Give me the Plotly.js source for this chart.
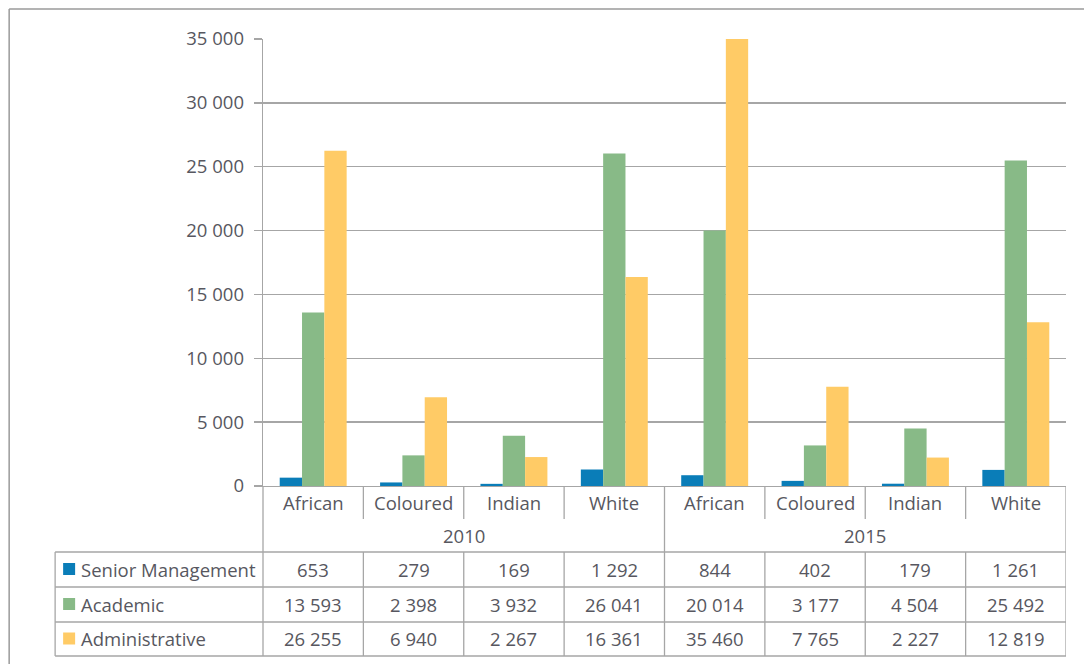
<!DOCTYPE html>
<html>
<head>
<meta charset="utf-8">
<script src="https://cdn.plot.ly/plotly-3.0.1.min.js"></script>
<style>html,body{margin:0;padding:0;background:#fff;}#chart{width:1084px;height:664px;}</style>
</head>
<body>
<div id="chart"></div>
<script>
// ---- data ----
const years = ['2010', '2015'];
const categories = ['African', 'Coloured', 'Indian', 'White'];
const seriesNames = ['Senior Management', 'Academic', 'Administrative'];
const seniorManagement = [653, 279, 169, 1292, 844, 402, 179, 1261];
const academic = [13593, 2398, 3932, 26041, 20014, 3177, 4504, 25492];
const administrative = [26255, 6940, 2267, 16361, 35460, 7765, 2227, 12819];
const yTicks = [0, 5000, 10000, 15000, 20000, 25000, 30000, 35000];

// ---- style ----
const colors = ['#0A7DB8', '#88BA87', '#FFCB66'];
const textColor = '#575760';
const lineColor = '#A6A6A6';
const FONT = 'Open Sans, sans-serif';
const FS = 18.5;

const W = 1084, H = 664;
const L = 263, R = 1066.5, T = 39, B = 486;
const px = X => (X - L) / (R - L);
const py = Y => (B - Y) / (B - T);

const n = years.length * categories.length;
const xIdx = Array.from({length: n}, (_, i) => i);
const allSeries = [seniorManagement, academic, administrative];

const traces = allSeries.map((vals, s) => ({
  type: 'bar', x: xIdx, y: vals, name: seriesNames[s],
  marker: {color: colors[s], line: {width: 0}},
  hoverinfo: 'y+name'
}));

function fmt(v) {
  return String(v).replace(/\B(?=(\d{3})+(?!\d))/g, ' ');
}

const shapes = [];
const annotations = [];
function line(x0, y0, x1, y1, xref, color, width) {
  shapes.push({type: 'line', xref: xref || 'paper', yref: 'paper', x0, y0, x1, y1,
    line: {color: color || lineColor, width: width || 1.3}, layer: 'above'});
}
function text(x, y, t, xref, xanchor) {
  annotations.push({x, y, xref: xref || 'x', yref: 'paper', text: t, showarrow: false,
    xanchor: xanchor || 'center', yanchor: 'middle', font: {family: FONT, size: FS, color: textColor}});
}

// outer frame (left + top)
line(px(9), py(9), px(9), py(668), 'paper', '#9A9A9A', 1.5);
line(px(9), py(9), px(1090), py(9), 'paper', '#9A9A9A', 1.5);

// y axis extension downwards
line(px(L), py(B), px(L), py(656));
// right edge of table
line(n - 0.5, py(B), n - 0.5, py(656), 'x');
// category separators + year separators
for (let i = 0; i < n - 1; i++) {
  const isYear = (i + 1) % categories.length === 0;
  line(i + 0.5, py(B), i + 0.5, py(isYear ? 656 : 519), 'x');
  if (!isYear) line(i + 0.5, py(552), i + 0.5, py(656), 'x');
}
// table horizontal lines
const rowLines = [552, 587, 622, 656];
rowLines.forEach(Y => line(px(55), py(Y), 1, py(Y), 'paper'));
line(px(55), py(552), px(55), py(656));

// category labels and year labels
for (let i = 0; i < n; i++) text(i, py(502), categories[i % categories.length]);
years.forEach((yr, k) => text(k * categories.length + (categories.length - 1) / 2, py(535), yr));

// table rows
const rowCenters = [569, 604, 638.5];
allSeries.forEach((vals, s) => {
  const yc = rowCenters[s];
  shapes.push({type: 'rect', xref: 'paper', yref: 'paper', x0: px(63), x1: px(75),
    y0: py(yc - 6), y1: py(yc + 6), fillcolor: colors[s], line: {width: 0}, layer: 'above'});
  text(px(79), py(yc), seriesNames[s], 'paper', 'left');
  vals.forEach((v, i) => text(i, py(yc), fmt(v)));
});

const layout = {
  width: W, height: H,
  margin: {l: L, r: W - R, t: T, b: H - B, pad: 0},
  paper_bgcolor: '#fff', plot_bgcolor: '#fff',
  separators: '. ',
  showlegend: false,
  barmode: 'group', bargap: 0.333, bargroupgap: 0,
  font: {family: FONT, size: FS, color: textColor},
  xaxis: {range: [-0.5, n - 0.5], showgrid: false, zeroline: false, showticklabels: false,
    ticks: '', showline: true, linecolor: lineColor, linewidth: 1.3, fixedrange: true},
  yaxis: {range: [0, 35000], tickvals: yTicks, tickformat: ',d', showgrid: true,
    gridcolor: lineColor, gridwidth: 1.3, zeroline: false, showline: true, linecolor: lineColor,
    linewidth: 1.3, ticks: 'outside', ticklen: 8, tickcolor: lineColor, tickwidth: 1.3,
    ticklabelstandoff: 6,
    tickfont: {family: FONT, size: FS, color: textColor}, fixedrange: true},
  shapes, annotations
};

Plotly.newPlot('chart', traces, layout, {staticPlot: true, displayModeBar: false});
</script>
</body>
</html>
